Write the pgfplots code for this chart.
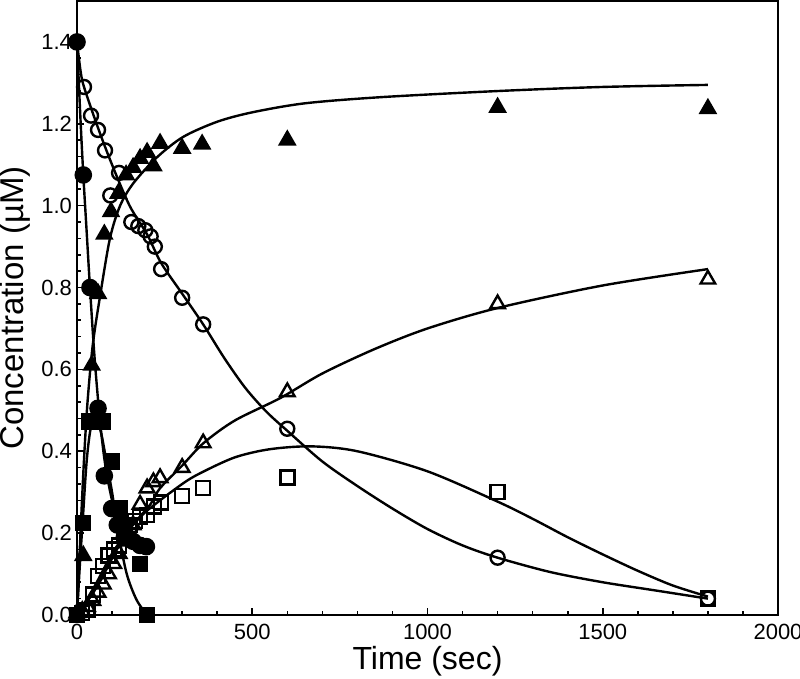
\documentclass[border=0pt]{standalone}
\usepackage{pgfplots}
\pgfplotsset{compat=1.18}
\usepackage{fontspec}
\setmainfont{Liberation Sans}
\begin{document}
\begin{tikzpicture}
  \begin{axis}[%
    ,scale only axis
    ,width=350.5pt, height=307pt
    ,xmin=0, xmax=2000, ymin=0, ymax=1.5
    ,xtick={0,500,1000,1500,2000}
    ,ytick={0,0.2,0.4,0.6,0.8,1.0,1.2,1.4}
    ,minor x tick num=4, minor y tick num=4
    ,xtick pos=left, ytick pos=left
    ,tick align=inside
    ,major tick length=3.5pt, minor tick length=2pt
    ,axis line style={line width=1pt}
    ,every tick/.style={line width=0.8pt, black}
    ,/pgf/number format/assume math mode=true
    ,ticklabel style={font=\fontsize{11}{12}\selectfont}
    ,yticklabel style={xshift=1pt, /pgf/number format/.cd, fixed, fixed zerofill, precision=1}
    ,xticklabel style={yshift=-1pt, /pgf/number format/.cd, fixed, 1000 sep={}}
    ,xlabel={Time (sec)}
    ,ylabel={Concentration (µM)}
    ,x label style={font=\fontsize{16}{18}\selectfont, at={(axis description cs:0.5,-0.076)}, anchor=center}
    ,y label style={font=\fontsize{16.5}{18}\selectfont, at={(axis description cs:-0.088,0.5)}, anchor=center}
    ,clip=false
    ,mark options={solid, line width=1.2pt}
    ]
    % fitted curves
    \addplot[smooth, no marks, line width=1.2pt] coordinates {
      (0,1.40) (10,1.21) (18,1.075) (28,0.93) (37,0.80) (50,0.63) (65,0.48)
      (80,0.37) (100,0.28) (120,0.225) (150,0.185) (200,0.165)};
    \addplot[smooth, no marks, line width=1.2pt] coordinates {
      (0,0) (8,0.12) (17,0.24) (28,0.38) (40,0.46) (55,0.48) (70,0.44)
      (85,0.37) (100,0.30) (118,0.20) (142,0.10) (170,0.037) (200,0)};
    \addplot[smooth, no marks, line width=1.2pt] coordinates {
      (0,0) (10,0.2) (20,0.38) (30,0.52) (45,0.66) (66,0.78) (94,0.92)
      (123,1.0) (161,1.055) (228,1.118) (303,1.168) (400,1.205) (500,1.228)
      (650,1.25) (866,1.265) (1200,1.28) (1500,1.29) (1800,1.295)};
    \addplot[smooth, no marks, line width=1.2pt] coordinates {
      (0,1.40) (10,1.33) (20,1.29) (60,1.19) (100,1.10) (150,1.00) (200,0.93)
      (240,0.86) (300,0.785) (360,0.71) (420,0.628) (480,0.555) (540,0.497)
      (600,0.45) (700,0.375) (800,0.315) (900,0.26) (1000,0.21) (1100,0.17)
      (1200,0.14) (1350,0.105) (1500,0.08) (1650,0.06) (1800,0.04)};
    \addplot[smooth, no marks, line width=1.2pt] coordinates {
      (0,0) (50,0.06) (100,0.14) (150,0.21) (209,0.27) (237,0.31) (300,0.365)
      (361,0.42) (450,0.475) (580,0.53) (700,0.59) (850,0.65) (1000,0.70)
      (1200,0.75) (1500,0.805) (1800,0.845)};
    \addplot[smooth, no marks, line width=1.2pt] coordinates {
      (0,0) (50,0.07) (100,0.15) (150,0.21) (200,0.255) (300,0.32) (353,0.347)
      (450,0.385) (550,0.405) (669,0.412) (800,0.40) (1000,0.351) (1200,0.277)
      (1300,0.235) (1400,0.19) (1500,0.148) (1600,0.108) (1700,0.072)
      (1800,0.045)};
    % data: filled circles
    \addplot[only marks, mark=*, mark size=3.8pt, black] coordinates {
      (0,1.40) (18,1.075) (37,0.80) (60,0.505) (78,0.34) (99,0.26) (115,0.22)
      (135,0.19) (160,0.18) (180,0.17) (198,0.167)};
    % data: open circles
    \addplot[only marks, mark=o, mark size=3.5pt, black] coordinates {
      (20,1.29) (40,1.22) (60,1.185) (80,1.135) (95,1.025) (120,1.08)
      (155,0.96) (175,0.95) (195,0.94) (210,0.925) (222,0.90) (240,0.845)
      (300,0.775) (360,0.71) (600,0.455) (1200,0.14) (1800,0.04)};
    % data: filled triangles
    \addplot[only marks, mark=triangle*, mark size=4.2pt, black] coordinates {
      (18,0.145) (42,0.61) (60,0.785) (78,0.93) (97,0.985) (118,1.03)
      (140,1.075) (160,1.093) (180,1.115) (200,1.13) (218,1.097) (237,1.152)
      (300,1.14) (357,1.15) (600,1.16) (1200,1.24) (1800,1.237)};
    % data: open triangles
    \addplot[only marks, mark=triangle, mark size=4.2pt, black] coordinates {
      (0,0.005) (15,0.01) (30,0.02) (45,0.035) (60,0.055) (75,0.075) (90,0.10)
      (105,0.125) (120,0.15) (140,0.18) (160,0.22) (180,0.27) (200,0.31)
      (218,0.325) (237,0.335) (300,0.36) (360,0.42) (600,0.545) (1200,0.76)
      (1800,0.82)};
    % data: filled squares
    \addplot[only marks, mark=square*, mark size=3.5pt, black] coordinates {
      (0,0) (17,0.225) (35,0.473) (75,0.473) (100,0.375) (123,0.26) (135,0.22)
      (180,0.125) (200,0)};
    % data: open squares
    \addplot[only marks, mark=square, mark size=3.5pt, black] coordinates {
      (0,0) (15,0.005) (30,0.012) (45,0.05) (60,0.095) (75,0.12) (90,0.145)
      (105,0.16) (120,0.17) (135,0.20) (150,0.22) (165,0.23) (180,0.24)
      (200,0.245) (220,0.265) (240,0.275) (300,0.29) (360,0.31) (600,0.336)
      (1200,0.30) (1800,0.04)};
  \end{axis}
  \pgfresetboundingbox
  \path ([shift={(-38.5pt,-31.5pt)}]current axis.south west)
    rectangle ([shift={(11pt,0.5pt)}]current axis.north east);
\end{tikzpicture}
\end{document}
